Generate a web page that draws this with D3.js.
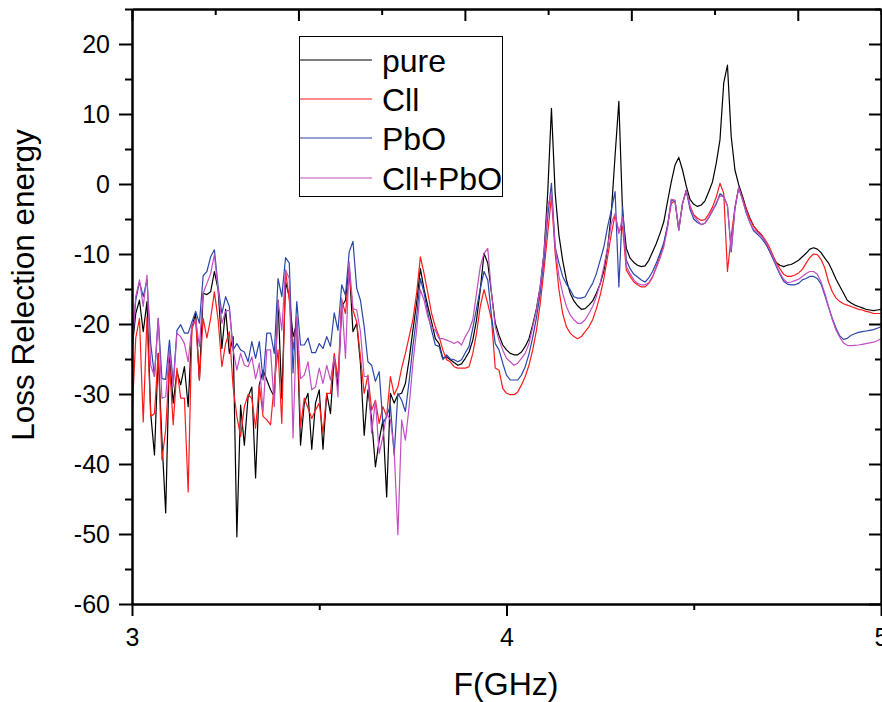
<!DOCTYPE html>
<html>
<head>
<meta charset="utf-8">
<script src="https://cdn.jsdelivr.net/npm/d3@7"></script>
<style>
  html, body { margin: 0; padding: 0; background: #fff; }
  svg { display: block; font-family: "Liberation Sans", Arial, sans-serif; }
</style>
</head>
<body>
<svg id="chart" width="882" height="702"></svg>
<script>
// ---------- data ----------
// frequency sampling grid (GHz): 3.00 .. 5.00, step 0.01
const freqStart = 3.0, freqStep = 0.01, freqCount = 201;
const freq = d3.range(freqCount).map(i => Math.round((freqStart + i * freqStep) * 100) / 100);

const seriesNames = ["pure", "Cll", "PbO", "Cll+PbO"];
const seriesColors = ["#000000", "#ff1a1a", "#2a46a8", "#c24fc2"];

const pure = [
  -23.7,-18.5,-16.6,-21.1,-16.8,-32.8,-38.7,-24.2,-36.6,-47.0,
  -24.2,-31.3,-26.8,-28.7,-26.1,-31.8,-20.4,-18.5,-28.0,-15.6,
  -15.8,-15.4,-12.5,-15.1,-23.5,-17.9,-24.2,-21.8,-50.4,-31.6,
  -37.3,-30.4,-29.0,-42.0,-28.7,-26.6,-28.0,-29.4,-30.4,-16.6,
  -30.6,-14.0,-16.1,-21.8,-19.9,-37.3,-31.3,-29.9,-37.9,-31.3,
  -29.4,-37.9,-29.9,-32.8,-24.7,-29.0,-17.5,-16.6,-11.8,-21.1,
  -19.9,-25.6,-35.9,-29.4,-33.7,-40.4,-36.6,-33.7,-44.7,-29.9,
  -31.3,-30.1,-29.9,-28.5,-25.1,-20.9,-17.0,-12.1,-15.1,-17.5,
  -19.7,-22.1,-22.8,-24.9,-24.7,-25.1,-25.5,-25.9,-25.7,-24.9,
  -24.0,-22.3,-19.4,-15.1,-9.9,-11.3,-15.6,-19.9,-21.6,-23.0,
  -23.7,-24.2,-24.4,-24.4,-24.0,-23.2,-22.1,-20.1,-17.8,-14.7,
  -9.9,-1.3,10.8,-1.3,-7.3,-10.9,-13.7,-15.6,-16.7,-17.4,
  -17.9,-17.8,-17.3,-16.7,-15.6,-14.3,-12.4,-9.2,-4.0,4.1,
  11.8,-4.2,-9.2,-10.6,-11.2,-11.6,-11.8,-11.7,-10.9,-9.7,
  -8.5,-7.05,-5.4,-2.5,0.3,2.7,3.8,2.0,-0.3,-2.2,
  -2.9,-3.2,-3.0,-2.4,-1.1,0.3,2.95,6.3,14.4,17.0,
  6.8,2.0,-0.1,-1.7,-3.5,-4.9,-6.0,-6.7,-7.2,-8.1,
  -9.3,-10.3,-11.2,-11.6,-11.8,-11.6,-11.5,-11.2,-10.9,-10.4,
  -9.9,-9.3,-9.1,-9.3,-9.8,-10.6,-11.3,-12.4,-13.6,-14.6,
  -15.6,-16.6,-17.0,-17.3,-17.5,-17.7,-17.9,-18.0,-18.1,-18.0,-17.9
];

const cll = [
  -33.2,-22.0,-19.2,-34.0,-19.0,-33.2,-32.8,-24.2,-39.4,-35.1,
  -25.6,-34.4,-26.3,-30.6,-30.6,-44.0,-20.6,-19.4,-28.0,-19.2,
  -22.0,-19.2,-15.4,-19.4,-26.1,-22.8,-21.1,-29.0,-33.2,-36.1,
  -31.8,-30.1,-30.6,-34.9,-28.7,-33.2,-33.7,-34.4,-28.5,-23.7,
  -34.2,-12.3,-16.6,-23.7,-19.0,-34.7,-30.6,-32.0,-33.5,-32.3,
  -31.3,-35.6,-29.9,-29.9,-24.2,-27.8,-16.6,-18.5,-12.5,-18.0,
  -19.7,-24.7,-29.9,-27.3,-32.3,-30.9,-34.2,-31.8,-33.2,-27.5,
  -30.1,-29.0,-26.3,-24.2,-21.8,-19.4,-15.6,-10.4,-12.8,-15.6,
  -18.5,-20.4,-21.8,-23.7,-25.1,-25.4,-26.1,-26.3,-26.3,-26.3,
  -26.1,-24.2,-21.3,-17.5,-15.1,-17.1,-19.4,-26.3,-26.6,-29.2,
  -29.9,-30.1,-30.1,-29.7,-28.7,-27.5,-25.9,-23.7,-20.9,-17.1,
  -12.3,-7.1,-1.8,-9.9,-15.1,-18.5,-20.4,-21.3,-21.8,-22.1,
  -21.8,-21.1,-20.4,-19.4,-17.8,-15.9,-13.5,-10.4,-7.1,-4.4,
  -6.8,-6.1,-12.3,-13.2,-14.0,-14.4,-14.7,-14.7,-14.2,-13.3,
  -11.8,-10.3,-8.6,-6.0,-2.8,-2.4,-6.5,-2.8,-0.9,-3.1,
  -4.4,-4.9,-5.2,-5.1,-4.3,-3.3,-1.9,0.1,-1.3,-12.5,
  -7.5,-3.3,-0.5,-2.0,-3.6,-5.0,-6.0,-6.7,-7.2,-7.9,
  -8.8,-10.0,-11.2,-12.1,-12.9,-13.2,-13.2,-13.0,-12.7,-12.2,
  -11.3,-10.5,-10.0,-10.1,-10.8,-12.0,-14.0,-15.4,-16.3,-16.8,
  -17.1,-17.3,-17.5,-17.7,-17.9,-18.0,-18.2,-18.3,-18.5,-18.5,-18.5
];

const pbo = [
  -22.8,-16.6,-14.0,-16.1,-13.7,-22.8,-27.5,-19.2,-27.8,-27.9,
  -22.3,-28.5,-20.9,-20.1,-21.3,-21.3,-19.7,-18.2,-19.9,-13.1,
  -12.5,-10.4,-9.4,-14.7,-18.5,-16.1,-17.5,-23.7,-22.8,-23.7,
  -24.0,-25.4,-22.5,-24.9,-22.5,-28.0,-21.3,-21.3,-24.2,-13.5,
  -16.1,-10.5,-11.3,-27.0,-16.8,-23.0,-23.0,-22.0,-24.1,-24.1,
  -22.8,-23.5,-21.8,-23.2,-18.4,-20.9,-14.4,-15.9,-9.7,-8.2,
  -14.9,-16.6,-20.4,-25.4,-25.9,-28.2,-26.8,-34.2,-33.2,-31.6,
  -38.7,-29.9,-30.9,-32.5,-28.2,-23.2,-19.0,-13.5,-15.6,-18.5,
  -20.9,-23.0,-23.2,-25.1,-24.4,-25.0,-25.1,-25.4,-25.1,-24.1,
  -23.2,-20.6,-17.8,-14.9,-12.5,-13.7,-18.9,-22.8,-23.7,-25.6,
  -27.3,-28.0,-28.0,-28.0,-27.3,-26.1,-24.3,-21.9,-19.1,-15.6,
  -10.9,-4.7,0.1,-9.0,-11.3,-13.2,-14.3,-15.1,-16.1,-16.3,
  -16.3,-16.1,-15.1,-14.2,-12.8,-10.9,-9.0,-6.1,-3.7,-1.1,
  -14.7,-3.2,-10.9,-12.1,-12.9,-13.3,-13.7,-14.0,-13.4,-12.5,
  -11.3,-9.9,-8.4,-5.9,-2.3,-2.5,-6.6,-2.8,-0.9,-3.6,
  -5.0,-5.5,-5.8,-5.6,-4.8,-3.8,-2.9,-1.4,-1.8,-3.1,
  -9.7,-3.5,-0.5,-2.2,-4.1,-5.5,-6.7,-7.2,-7.7,-8.4,
  -9.3,-10.5,-11.7,-12.9,-13.9,-14.3,-14.4,-14.4,-14.2,-13.7,
  -13.5,-13.2,-13.2,-13.5,-14.3,-15.9,-17.6,-19.2,-20.6,-21.7,
  -22.2,-22.05,-21.6,-21.4,-21.2,-21.1,-21.0,-20.9,-20.8,-20.6,-20.4
];

const cllPbo = [
  -23.7,-16.1,-13.7,-17.5,-13.0,-25.9,-27.5,-19.2,-30.6,-30.4,
  -23.7,-29.0,-21.3,-21.8,-22.8,-25.4,-20.1,-19.4,-23.2,-15.6,
  -14.2,-12.8,-10.1,-15.1,-19.9,-18.2,-18.0,-23.7,-26.6,-24.2,
  -25.9,-26.1,-24.7,-27.8,-25.6,-32.5,-23.7,-23.7,-31.8,-16.6,
  -20.9,-12.3,-13.5,-36.3,-19.0,-27.8,-27.3,-25.4,-29.4,-29.0,
  -26.3,-28.5,-25.9,-28.0,-24.7,-30.4,-16.3,-24.9,-11.1,-17.8,
  -18.0,-21.1,-27.5,-27.5,-35.6,-30.9,-38.5,-36.1,-32.8,-33.7,
  -38.0,-50.1,-33.7,-36.6,-31.8,-25.6,-20.9,-15.1,-16.6,-19.0,
  -20.4,-20.9,-22.1,-22.1,-22.3,-22.5,-22.8,-22.5,-23.0,-21.8,
  -20.9,-19.4,-15.6,-11.8,-9.9,-9.2,-15.6,-20.4,-22.3,-23.7,
  -24.9,-25.4,-25.9,-25.6,-24.9,-24.2,-22.8,-20.4,-18.0,-14.7,
  -9.9,-3.2,-1.3,-9.0,-13.2,-15.6,-17.5,-18.7,-19.4,-19.9,
  -19.9,-19.4,-18.5,-17.5,-16.1,-14.2,-11.8,-9.0,-5.6,-4.2,
  -7.1,-4.7,-11.8,-12.8,-13.7,-14.2,-14.4,-14.4,-14.1,-13.2,
  -12.0,-10.6,-9.0,-6.3,-2.2,-2.3,-6.6,-2.8,-0.9,-3.2,
  -4.6,-5.2,-5.8,-5.6,-4.8,-3.8,-2.7,-1.7,-1.8,-3.1,
  -9.4,-3.5,-0.5,-2.2,-4.0,-5.5,-6.5,-7.0,-7.4,-8.1,
  -9.1,-10.2,-11.5,-12.7,-13.6,-14.1,-14.0,-13.8,-13.6,-13.2,
  -12.8,-12.5,-12.5,-12.9,-14.0,-15.6,-17.5,-19.4,-20.9,-21.9,
  -22.7,-23.05,-23.1,-23.05,-23.0,-22.9,-22.8,-22.7,-22.6,-22.4,-22.1
];

const seriesValues = [pure, cll, pbo, cllPbo];

// axis ticks
const yMajorTicks = [-60, -50, -40, -30, -20, -10, 0, 10, 20];
const yMinorTicks = [-55, -45, -35, -25, -15, -5, 5, 15, 25];
const xMajorTicks = [3, 4, 5];
const xMinorTicks = [3.5, 4.5];
const topMajorTicks = [0, 1, 2, 3, 4];
const topMinorTicks = [0.5, 1.5, 2.5, 3.5, 4.5];

const xLabel = "F(GHz)";
const yLabel = "Loss Relection energy";

// ---------- layout ----------
const L = 132, R = 881, T = 9, B = 604;
const svg = d3.select("#chart");

const x = d3.scaleLinear().domain([3, 5]).range([L, R]);
const xTop = d3.scaleLinear().domain([0, 4.5]).range([L, R]);
const y = d3.scaleLinear().domain([-60, 25]).range([B, T]);

svg.append("defs").append("clipPath").attr("id", "plotclip")
  .append("rect").attr("x", L).attr("y", T).attr("width", R - L + 1).attr("height", B - T);

// data lines
const line = d3.line().x((d, i) => x(freq[i])).y(d => y(d));
const gLines = svg.append("g").attr("clip-path", "url(#plotclip)");
seriesValues.forEach((vals, k) => {
  const n = Math.min(vals.length, freq.length);
  gLines.append("path")
    .datum(vals.slice(0, n))
    .attr("fill", "none")
    .attr("stroke", seriesColors[k])
    .attr("stroke-width", 1.2)
    .attr("stroke-linejoin", "round")
    .attr("d", line);
});

// axes
const fontSize = 25;
const plainFmt = d => String(d);   // ASCII hyphen-minus, as in the reference
function styleAxis(g) {
  g.selectAll("path.domain").attr("stroke", "#000").attr("stroke-width", 2);
  g.selectAll(".tick line").attr("stroke", "#000").attr("stroke-width", 2);
  g.selectAll(".tick text").attr("fill", "#000")
    .style("font-size", fontSize + "px")
    .style("font-family", "'Liberation Sans', Arial, sans-serif");
}

// left
svg.append("g").attr("transform", `translate(${L},0)`)
  .call(d3.axisLeft(y).tickValues(yMinorTicks).tickSize(7).tickSizeOuter(0).tickFormat(""))
  .call(styleAxis);
svg.append("g").attr("transform", `translate(${L},0)`)
  .call(d3.axisLeft(y).tickValues(yMajorTicks).tickSize(13).tickSizeOuter(0).tickPadding(9).tickFormat(plainFmt))
  .call(styleAxis);

// right (ticks inward)
svg.append("g").attr("transform", `translate(${R},0)`)
  .call(d3.axisLeft(y).tickValues(yMinorTicks).tickSize(6).tickSizeOuter(0).tickFormat(""))
  .call(styleAxis);
svg.append("g").attr("transform", `translate(${R},0)`)
  .call(d3.axisLeft(y).tickValues(yMajorTicks).tickSize(12).tickSizeOuter(0).tickFormat(""))
  .call(styleAxis);

// bottom
svg.append("g").attr("transform", `translate(0,${B})`)
  .call(d3.axisBottom(x).tickValues(xMinorTicks).tickSize(6).tickSizeOuter(0).tickFormat(""))
  .call(styleAxis);
svg.append("g").attr("transform", `translate(0,${B})`)
  .call(d3.axisBottom(x).tickValues(xMajorTicks).tickSize(12).tickSizeOuter(0).tickPadding(12).tickFormat(plainFmt))
  .call(styleAxis);

// top (ticks inward, no labels)
svg.append("g").attr("transform", `translate(0,${T})`)
  .call(d3.axisBottom(xTop).tickValues(topMinorTicks).tickSize(6).tickSizeOuter(0).tickFormat(""))
  .call(styleAxis);
svg.append("g").attr("transform", `translate(0,${T})`)
  .call(d3.axisBottom(xTop).tickValues(topMajorTicks).tickSize(12).tickSizeOuter(0).tickFormat(""))
  .call(styleAxis);

// axis titles
svg.append("text")
  .attr("x", 506).attr("y", 695)
  .attr("text-anchor", "middle")
  .style("font-size", "32px")
  .text(xLabel);

svg.append("text")
  .attr("transform", "translate(34,285) rotate(-90)")
  .attr("text-anchor", "middle")
  .style("font-size", "31.5px")
  .text(yLabel);

// legend
const legX = 299, legY = 36, legW = 203, legH = 160;
const legRowY = [60, 99, 138, 178];
const gLeg = svg.append("g");
gLeg.append("rect")
  .attr("x", legX + 0.5).attr("y", legY + 0.5)
  .attr("width", legW).attr("height", legH)
  .attr("fill", "#fff").attr("stroke", "#000").attr("stroke-width", 1);
seriesNames.forEach((name, k) => {
  gLeg.append("line")
    .attr("x1", legX + 1).attr("x2", 372)
    .attr("y1", legRowY[k]).attr("y2", legRowY[k])
    .attr("stroke", seriesColors[k]).attr("stroke-width", 1.2);
  gLeg.append("text")
    .attr("x", 382).attr("y", legRowY[k])
    .attr("dy", "0.36em")
    .style("font-size", "32px")
    .text(name);
});
</script>
</body>
</html>
